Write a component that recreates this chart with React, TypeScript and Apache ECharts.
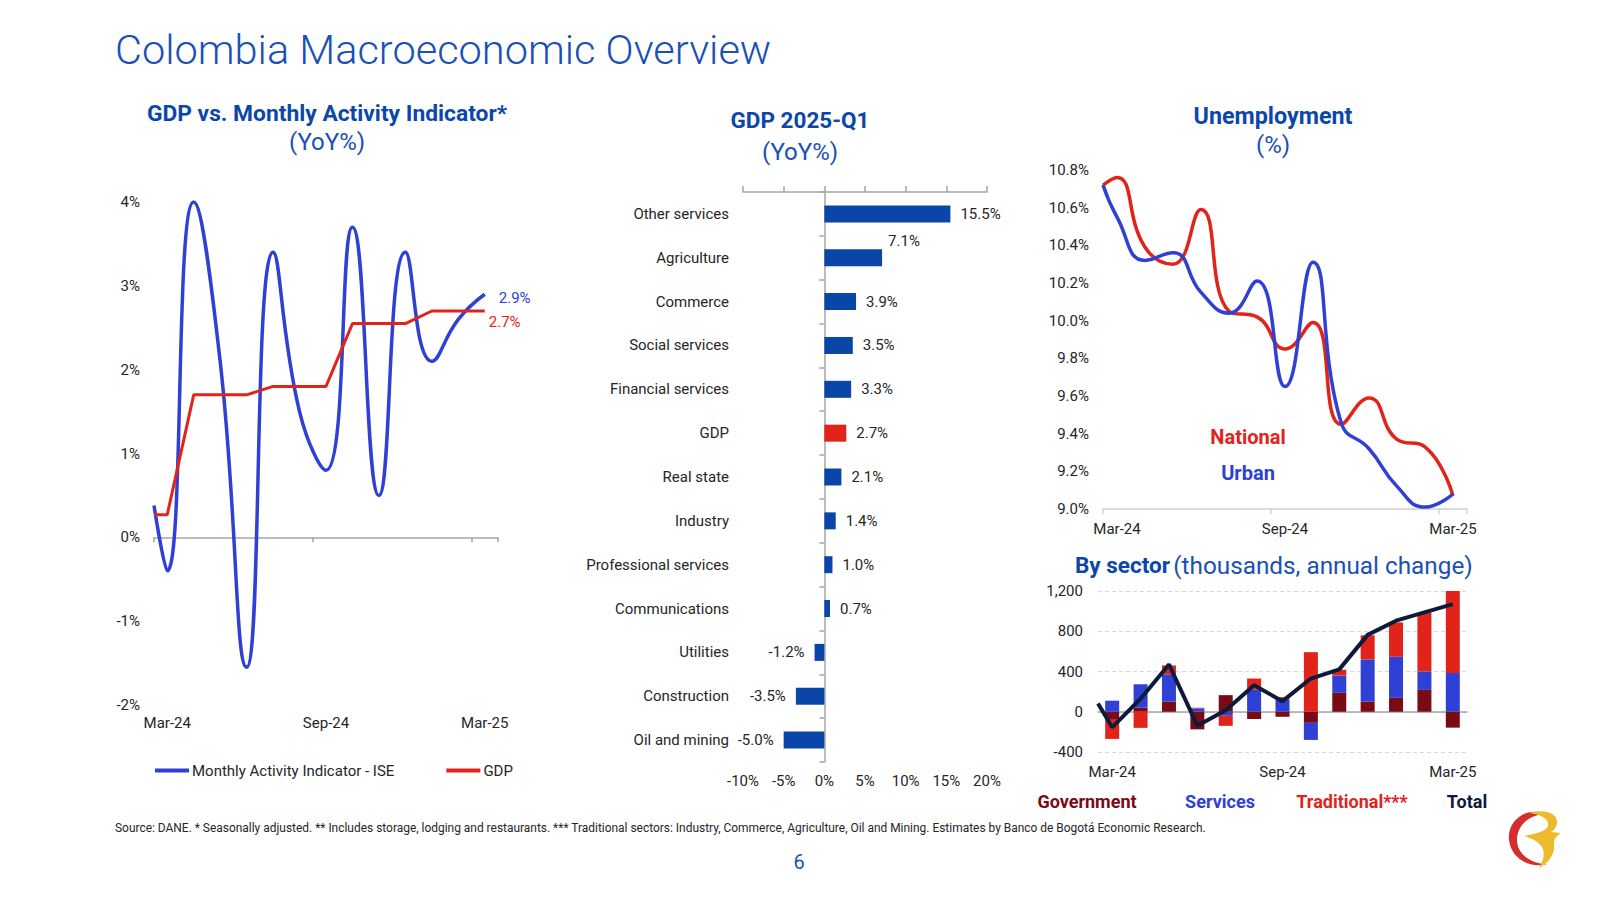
import React, { useEffect, useRef } from "react";
import * as echarts from "echarts";

// ---------- DATA ----------
const MONTHS = ["Mar-24", "Apr-24", "May-24", "Jun-24", "Jul-24", "Aug-24", "Sep-24", "Oct-24", "Nov-24", "Dec-24", "Jan-25", "Feb-25", "Mar-25"];
// month positions of the line points (first point sits at the start of the axis)
const LINE_POS = [-0.5, 0, 1, 2, 3, 4, 5, 6, 7, 8, 9, 10, 11, 12];

const iseValues = [0.38, -0.4, 4.0, 2.1, -1.55, 3.4, 1.5, 0.8, 3.7, 0.5, 3.4, 2.1, 2.6, 2.9];
const gdpValues = [0.27, 0.27, 1.7, 1.7, 1.7, 1.8, 1.8, 1.8, 2.55, 2.55, 2.55, 2.7, 2.7, 2.7];

const sectorNames = ["Other services", "Agriculture", "Commerce", "Social services", "Financial services", "GDP", "Real state", "Industry", "Professional services", "Communications", "Utilities", "Construction", "Oil and mining"];
const sectorGrowth = [15.5, 7.1, 3.9, 3.5, 3.3, 2.7, 2.1, 1.4, 1.0, 0.7, -1.2, -3.5, -5.0];

const nationalValues = [10.72, 10.76, 10.39, 10.3, 10.59, 10.05, 10.02, 9.85, 9.99, 9.45, 9.59, 9.37, 9.33, 9.07];
const urbanValues = [10.72, 10.55, 10.32, 10.36, 10.15, 10.04, 10.21, 9.65, 10.31, 9.46, 9.32, 9.12, 9.01, 9.08];

const govValues = [-80, 40, 100, -175, 165, -72, -50, -110, 188, 100, 138, 217, -158];
const servicesValues = [110, 233, 272, 33, -40, 220, 120, -170, 171, 420, 408, 184, 385];
const traditionalValues = [-190, -160, 88, 7, -100, 110, 25, 592, 59, 240, 342, 586, 815];
const totalValues = [82, -155, 130, 470, -138, 15, 263, 105, 330, 421, 764, 905, 988, 1070];

// ---------- STYLE ----------
const FONT = "Roboto";
const TITLE_BLUE = "#0B47AA";
const MAIN_BLUE = "#1A50B5";
const LINE_BLUE = "#2E41D4";
const RED = "#E2231A";
const BAR_BLUE = "#0A46A8";
const DARK_RED = "#7A0B15";
const NAVY = "#0E1A3A";
const TEXT = "#262626";
const AXIS_GRAY = "#A6A6A6";

const RED_LOGO = "M42 6 C22 -2 2 12 4 32 C6 50 24 61 42 56 C26 56 12 46 12 32 C12 16 26 6 42 6 Z";
const YELLOW_LOGO = "M24 5 C38 1 52 4 52 14 C52 19 49 22 46 24 L56 25 C51 28 49 31 49 36 C50 46 44 55 34 60 C39 52 40 44 37 39 C33 33 26 30 19 28 C29 26 38 24 42 20 C46 14 40 7 24 5 Z";

echarts.graphic.registerShape("bbRed", echarts.graphic.extendPath(RED_LOGO, {}));
echarts.graphic.registerShape("bbYellow", echarts.graphic.extendPath(YELLOW_LOGO, {}));

const pairs = (vals: number[]) => vals.map((v, i) => [LINE_POS[i], v]);
const pct0 = (v: number) => `${v}%`;

function txt(text: string, x: number, y: number, font: string, fill: string, align = "center") {
  return {
    type: "text",
    x,
    y,
    style: { text, font, fill, textAlign: align, align, textVerticalAlign: "middle", verticalAlign: "middle" },
  };
}

export default function App() {
  const ref = useRef<HTMLDivElement>(null);

  useEffect(() => {
    if (!ref.current) return;
    const chart = echarts.init(ref.current, undefined, { renderer: "svg" });

    const label15 = { color: TEXT, fontSize: 15, fontFamily: FONT };

    const barData = sectorGrowth.map((v, i) => ({
      value: v,
      itemStyle: { color: sectorNames[i] === "GDP" ? RED : BAR_BLUE },
      label:
        v < 0
          ? { position: "left" }
          : sectorNames[i] === "Agriculture"
          ? { position: "right", offset: [-4, -17] }
          : { position: "right" },
    }));

    const option: any = {
      animation: false,
      textStyle: { fontFamily: FONT },
      grid: [
        { left: 154, top: 202, width: 344, height: 503 },
        { left: 743, top: 192, width: 244, height: 570 },
        { left: 1103, top: 170, width: 364, height: 339 },
        { left: 1098, top: 591, width: 369, height: 161 },
      ],
      xAxis: [
        {
          type: "category", gridIndex: 0, data: MONTHS, position: "bottom", boundaryGap: true,
          axisLine: { show: false, onZero: false }, axisTick: { show: false },
          axisLabel: { ...label15, interval: 5, margin: 10 },
        },
        {
          type: "value", gridIndex: 0, min: -0.5, max: 12.5, interval: 6, position: "bottom",
          axisLine: { show: true, onZero: true, lineStyle: { color: AXIS_GRAY, width: 1.5 } },
          axisTick: { show: true, length: 5, lineStyle: { color: AXIS_GRAY, width: 1.5 } },
          axisLabel: { show: false }, splitLine: { show: false },
        },
        {
          type: "value", gridIndex: 1, min: -10, max: 20, interval: 5, position: "top",
          axisLine: { show: true, onZero: false, lineStyle: { color: AXIS_GRAY, width: 1.5 } },
          axisTick: { show: true, length: 6, lineStyle: { color: AXIS_GRAY, width: 1.5 } },
          axisLabel: { show: false }, splitLine: { show: false },
        },
        {
          type: "value", gridIndex: 1, min: -10, max: 20, interval: 5, position: "bottom",
          axisLine: { show: false, onZero: false }, axisTick: { show: false },
          axisLabel: { ...label15, formatter: pct0, margin: 11 }, splitLine: { show: false },
        },
        {
          type: "category", gridIndex: 2, data: MONTHS, position: "bottom", boundaryGap: true,
          axisLine: { show: true, onZero: false, lineStyle: { color: "#D0D0D0", width: 1.5 } },
          axisTick: { show: true, length: 5, interval: 5, lineStyle: { color: "#D0D0D0", width: 1.5 } },
          axisLabel: { ...label15, interval: 5, margin: 12 },
        },
        {
          type: "value", gridIndex: 2, min: -0.5, max: 12.5, show: false,
        },
        {
          type: "category", gridIndex: 3, data: MONTHS, position: "bottom", boundaryGap: true,
          axisLine: { show: false, onZero: false }, axisTick: { show: false },
          axisLabel: { ...label15, interval: 5, margin: 12 },
        },
        {
          type: "value", gridIndex: 3, min: -0.5, max: 12.5, position: "bottom",
          axisLine: { show: true, onZero: true, lineStyle: { color: AXIS_GRAY, width: 1.5 } },
          axisTick: { show: false }, axisLabel: { show: false }, splitLine: { show: false },
        },
      ],
      yAxis: [
        {
          type: "value", gridIndex: 0, min: -2, max: 4, interval: 1,
          axisLine: { show: false }, axisTick: { show: false }, splitLine: { show: false },
          axisLabel: { ...label15, formatter: pct0, margin: 14 },
        },
        {
          type: "category", gridIndex: 1, data: sectorNames, inverse: true,
          axisLine: { show: true, onZero: true, lineStyle: { color: AXIS_GRAY, width: 1.5 } },
          axisTick: { show: true, length: 5, lineStyle: { color: AXIS_GRAY, width: 1.5 } },
          axisLabel: { ...label15, margin: 14 },
        },
        {
          type: "value", gridIndex: 2, min: 9.0, max: 10.8, interval: 0.2,
          axisLine: { show: false }, axisTick: { show: false }, splitLine: { show: false },
          axisLabel: { ...label15, formatter: (v: number) => `${v.toFixed(1)}%`, margin: 14 },
        },
        {
          type: "value", gridIndex: 3, min: -400, max: 1200, interval: 400,
          axisLine: { show: false }, axisTick: { show: false },
          splitLine: { show: true, lineStyle: { color: "#D9D9D9", type: [4, 3], width: 1 } },
          axisLabel: { ...label15, formatter: (v: number) => v.toLocaleString("en-US"), margin: 15 },
        },
      ],
      legend: {
        data: ["Monthly Activity Indicator - ISE", "GDP"],
        left: 155, top: 763, padding: 0, icon: "rect", itemWidth: 34, itemHeight: 4, itemGap: 52,
        textStyle: { ...label15, padding: [0, 0, 0, -2] },
      },
      series: [
        {
          name: "Monthly Activity Indicator - ISE", type: "line", xAxisIndex: 1, yAxisIndex: 0,
          data: pairs(iseValues), smooth: 0.5, showSymbol: false, symbol: "none",
          lineStyle: { color: LINE_BLUE, width: 3.5 }, itemStyle: { color: LINE_BLUE },
          endLabel: { show: true, color: LINE_BLUE, fontSize: 15, distance: 14, offset: [0, 4], formatter: (p: any) => `${p.value[1].toFixed(1)}%` },
        },
        {
          name: "GDP", type: "line", xAxisIndex: 1, yAxisIndex: 0,
          data: pairs(gdpValues), showSymbol: false, symbol: "none",
          lineStyle: { color: RED, width: 3 }, itemStyle: { color: RED },
          endLabel: { show: true, color: RED, fontSize: 15, distance: 4, offset: [0, 11], formatter: (p: any) => `${p.value[1].toFixed(1)}%` },
        },
        {
          name: "GDP 2025-Q1", type: "bar", xAxisIndex: 2, yAxisIndex: 1, barWidth: 17,
          data: barData,
          label: { show: true, distance: 10, ...label15, formatter: (p: any) => `${p.value.toFixed(1)}%` },
        },
        {
          name: "National", type: "line", xAxisIndex: 5, yAxisIndex: 2,
          data: pairs(nationalValues), smooth: 0.5, showSymbol: false, symbol: "none",
          lineStyle: { color: RED, width: 3.5 },
        },
        {
          name: "Urban", type: "line", xAxisIndex: 5, yAxisIndex: 2,
          data: pairs(urbanValues), smooth: 0.5, showSymbol: false, symbol: "none",
          lineStyle: { color: LINE_BLUE, width: 3.5 },
        },
        {
          name: "Government", type: "bar", xAxisIndex: 6, yAxisIndex: 3, stack: "sector", barWidth: 14,
          data: govValues, itemStyle: { color: DARK_RED },
        },
        {
          name: "Services", type: "bar", xAxisIndex: 6, yAxisIndex: 3, stack: "sector", barWidth: 14,
          data: servicesValues, itemStyle: { color: LINE_BLUE },
        },
        {
          name: "Traditional", type: "bar", xAxisIndex: 6, yAxisIndex: 3, stack: "sector", barWidth: 14,
          data: traditionalValues, itemStyle: { color: RED },
        },
        {
          name: "Total", type: "line", xAxisIndex: 7, yAxisIndex: 3,
          data: pairs(totalValues), showSymbol: false, symbol: "none",
          lineStyle: { color: NAVY, width: 4 }, z: 5,
        },
      ],
      graphic: [
        txt("Colombia Macroeconomic Overview", 115, 49, `300 41.5px ${FONT}`, MAIN_BLUE, "left"),
        txt("GDP vs. Monthly Activity Indicator*", 327, 113, `bold 22.8px ${FONT}`, TITLE_BLUE),
        txt("(YoY%)", 327, 142, `24px ${FONT}`, MAIN_BLUE),
        txt("GDP 2025-Q1", 800, 120, `bold 22.5px ${FONT}`, TITLE_BLUE),
        txt("(YoY%)", 800, 152, `24px ${FONT}`, MAIN_BLUE),
        txt("Unemployment", 1273, 116, `bold 23.3px ${FONT}`, TITLE_BLUE),
        txt("(%)", 1273, 145, `24px ${FONT}`, MAIN_BLUE),
        txt("National", 1248, 437, `bold 20px ${FONT}`, RED),
        txt("Urban", 1248, 473, `bold 20px ${FONT}`, LINE_BLUE),
        {
          type: "text", x: 1075, y: 565,
          style: {
            text: "{b|By sector} {r|(thousands, annual change)}",
            textVerticalAlign: "middle", verticalAlign: "middle",
            rich: {
              b: { font: `bold 22.5px ${FONT}`, fill: TITLE_BLUE, color: TITLE_BLUE },
              r: { font: `24.3px ${FONT}`, fill: MAIN_BLUE, color: MAIN_BLUE },
            },
          },
        },
        txt("Government", 1087, 801, `bold 18px ${FONT}`, DARK_RED),
        txt("Services", 1220, 801, `bold 18px ${FONT}`, LINE_BLUE),
        txt("Traditional***", 1352, 801, `bold 18px ${FONT}`, RED),
        txt("Total", 1467, 801, `bold 18px ${FONT}`, NAVY),
        txt(
          "Source: DANE. * Seasonally adjusted. ** Includes storage, lodging and restaurants. *** Traditional sectors: Industry, Commerce, Agriculture, Oil and Mining. Estimates by Banco de Bogotá Economic Research.",
          115, 828, `11.95px ${FONT}`, TEXT, "left"
        ),
        txt("6", 799, 862, `20px ${FONT}`, MAIN_BLUE),
        { type: "bbRed", x: 1505, y: 808, style: { fill: "#D42E2F" } },
        { type: "bbYellow", x: 1505, y: 808, style: { fill: "#EFB92C" } },
      ],
    };

    chart.setOption(option);
    return () => chart.dispose();
  }, []);

  return <div ref={ref} style={{ position: "absolute", left: 0, top: 0, width: 1600, height: 900, background: "#fff" }} />;
}
